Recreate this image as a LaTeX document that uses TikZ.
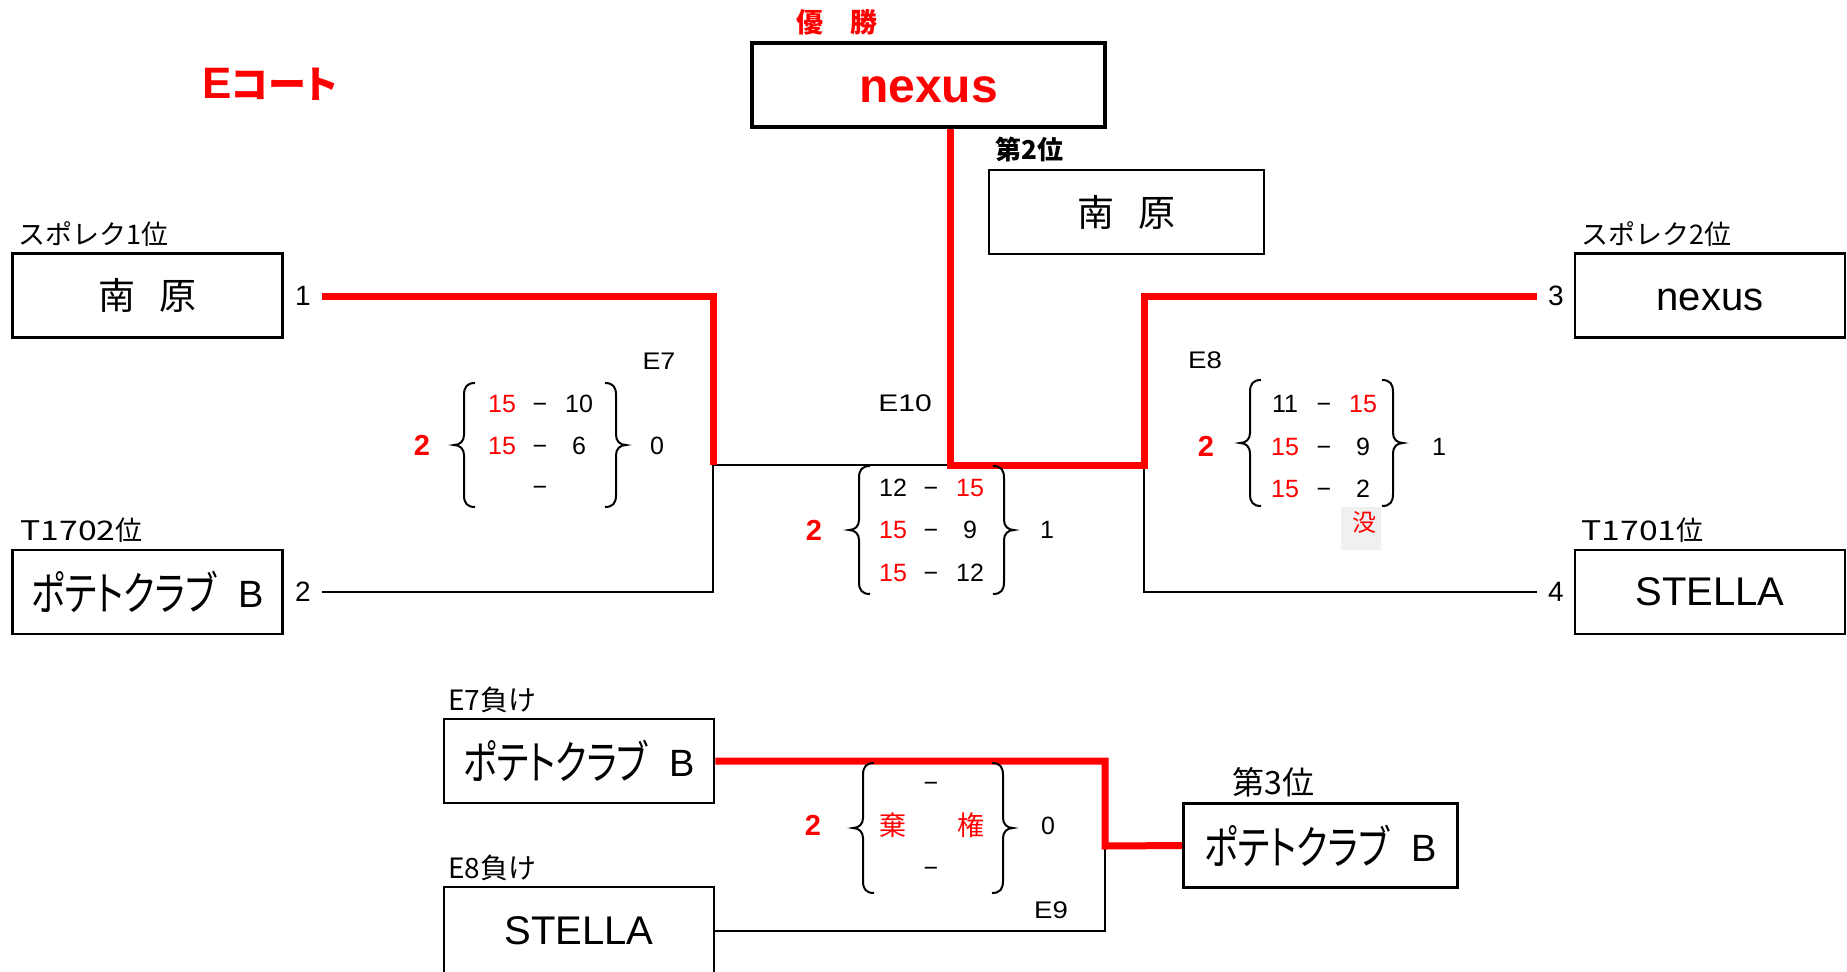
\documentclass[tikz,border=0pt]{standalone}
\usepackage{fontspec}
\setmainfont{Liberation Sans}
\newfontfamily\jp{Noto Sans CJK JP}[RawFeature={+palt}]
\newfontfamily\jpw{Noto Sans CJK JP}
\definecolor{lg}{RGB}{240,240,240}
\newcommand\fsz[1]{\fontsize{#1}{#1}\selectfont}
\newcommand\potato{\scalebox{0.76}[1]{\fsz{23}ポテトクラブ}\hspace{11pt}\raisebox{1.5pt}{\rmfamily\fsz{19}B}}
\newcommand\nanbara{南\hspace{12.5pt}原}
\newcommand\mybrL[3]{%
 \draw[brc] ({#1+21},{#2-#3}) .. controls ({#1+13},{#2-#3}) and ({#1+10},{#2-#3+4}) .. ({#1+10},{#2-#3+12})
  -- ({#1+10},{#2-10}) .. controls ({#1+10},{#2-4}) and ({#1+6},{#2}) .. ({#1},{#2})
  .. controls ({#1+6},{#2}) and ({#1+10},{#2+4}) .. ({#1+10},{#2+10})
  -- ({#1+10},{#2+#3-12}) .. controls ({#1+10},{#2+#3-4}) and ({#1+13},{#2+#3}) .. ({#1+21},{#2+#3});}
\newcommand\mybrR[3]{%
 \draw[brc] ({#1-21},{#2-#3}) .. controls ({#1-13},{#2-#3}) and ({#1-10},{#2-#3+4}) .. ({#1-10},{#2-#3+12})
  -- ({#1-10},{#2-10}) .. controls ({#1-10},{#2-4}) and ({#1-6},{#2}) .. ({#1},{#2})
  .. controls ({#1-6},{#2}) and ({#1-10},{#2+4}) .. ({#1-10},{#2+10})
  -- ({#1-10},{#2+#3-12}) .. controls ({#1-10},{#2+#3-4}) and ({#1-13},{#2+#3}) .. ({#1-21},{#2+#3});}
\begin{document}
\begin{tikzpicture}[x=0.5pt,y=-0.5pt,
  tbox/.style={draw, line width=1.3pt, inner sep=0pt, minimum width=135pt, minimum height=42pt},
  jtbox/.style={tbox, font=\jp\fsz{17.5}},
  ltbox/.style={tbox, font=\fsz{20}},
  redline/.style={red, line width=3.5pt, line join=miter},
  blkline/.style={black, line width=1pt},
  brc/.style={black, line width=1pt},
  seednum/.style={inner sep=0pt, font=\fsz{14}},
  scnum/.style={inner sep=0pt, font=\fsz{12.5}, text height=9pt, text depth=0pt},
  scred/.style={scnum, text=red},
  bigtwo/.style={inner sep=0pt, font=\bfseries\fsz{14.5}, text=red},
  elab/.style={inner sep=0pt, font=\fsz{12}},
  caplbl/.style={inner sep=0pt, anchor=west, font=\jpw\fsz{13.5}}]
\useasboundingbox (0,0) rectangle (1847,971);
\clip (0,0) rectangle (1847,971);

% title
\node[anchor=west, inner sep=0pt, text=red, font=\bfseries\fsz{22}] (court) at (202,84) {E{\jp\bfseries\fsz{19}コート}};
\node[inner sep=0pt, text=red, font=\jp\bfseries\fsz{13.5}] (yusho) at (837,22) {優　勝};

% boxes
\node[tbox, line width=2.25pt, minimum width=176.5pt, text=red, font=\bfseries\fsz{24}, text height=17pt, text depth=0pt] (champ) at (928.5,85) {nexus};
\node[jtbox, font=\jp\fsz{18.5}, minimum width=137.5pt] (second) at (1126.5,212) {\nanbara};
\node[caplbl, font=\jpw\bfseries\fsz{13}] (secondl) at (995,149) {第2位};

\node[jtbox, font=\jp\fsz{18.5}] (t1) at (147.5,295.5) {\nanbara};
\node[caplbl] (t1l) at (18,234) {スポレク1位};
\node[jtbox] (t2) at (147.5,592) {\potato};
\node[caplbl] (t2l) at (20,530) {\scalebox{1.25}[1]{T1702}位};
\node[ltbox, text height=14.5pt, text depth=0pt] (t3) at (1710,295.5) {nexus};
\node[caplbl] (t3l) at (1581,234) {スポレク2位};
\node[ltbox] (t4) at (1710,592) {STELLA};
\node[caplbl] (t4l) at (1581,530) {\scalebox{1.25}[1]{T1701}位};

\node[jtbox] (l7) at (579,761) {\potato};
\node[caplbl, font=\jpw\fsz{14}] (l7l) at (448,700) {E7負け};
\node[ltbox, minimum height=44pt] (l8) at (579,931) {STELLA};
\node[caplbl, font=\jpw\fsz{14}] (l8l) at (448,868) {E8負け};
\node[jtbox, minimum width=137pt] (third) at (1320.5,845.5) {\potato};
\node[caplbl, font=\jpw\fsz{16}] (thirdl) at (1232,782) {第3位};

% seed numbers
\node[seednum] (n1) at (303,296) {1};
\node[seednum] (n2) at (303,592) {2};
\node[seednum] (n3) at (1556,296) {3};
\node[seednum] (n4) at (1556,592) {4};

% connector points
\coordinate (s1) at (322,296);
\coordinate (s2) at (322,592);
\coordinate (s3) at (1537,296);
\coordinate (s4) at (1537,592);
\coordinate (j7) at (713,465);
\coordinate (j10) at (950,465);
\coordinate (j8) at (1144,465);
\coordinate (j9) at (1105,846);

% black connectors
\draw[blkline] (s2) -| (j7) -- (j10);
\draw[blkline] (j8) |- (s4);
\draw[blkline] (l8.east) -| (j9);
% red connectors
\draw[redline] (s1) -| (j7);
\draw[redline] (champ.south -| j10) -- (j10) -- (j8) |- (s3);
\draw[redline] (l7.east) -| (j9) -- (third.west);

% match labels
\node[elab] (e7) at (659,361) {\scalebox{1.12}[1]{E7}};
\node[elab] (e10) at (905,403) {\scalebox{1.25}[1]{E10}};
\node[elab] (e8) at (1205,360) {\scalebox{1.15}[1]{E8}};
\node[elab] (e9) at (1051,910) {\scalebox{1.15}[1]{E9}};

% E7 scores
\mybrL{454}{445}{62}
\mybrR{626}{445}{62}
\node[bigtwo] (e7w) at (422,445) {2};
\node[scnum] (e7l) at (657,445) {0};
\node[scred] (e7a1) at (502,403) {15};
\node[scnum] (e7a2) at (540,403) {−};
\node[scnum] (e7a3) at (579,403) {10};
\node[scred] (e7b1) at (502,445) {15};
\node[scnum] (e7b2) at (540,445) {−};
\node[scnum] (e7b3) at (579,445) {6};
\node[scnum] (e7c2) at (540,486) {−};

% E10 scores
\mybrL{849}{530}{64}
\mybrR{1014}{530}{64}
\node[bigtwo] (e10w) at (814,530) {2};
\node[scnum] (e10l) at (1047,529) {1};
\node[scnum] (e10a1) at (893,487) {12};
\node[scnum] (e10a2) at (931,487) {−};
\node[scred] (e10a3) at (970,487) {15};
\node[scred] (e10b1) at (893,529) {15};
\node[scnum] (e10b2) at (931,529) {−};
\node[scnum] (e10b3) at (970,529) {9};
\node[scred] (e10c1) at (893,572) {15};
\node[scnum] (e10c2) at (931,572) {−};
\node[scnum] (e10c3) at (970,572) {12};

% E8 scores
\mybrL{1240}{443}{63}
\mybrR{1403}{443}{63}
\node[bigtwo] (e8w) at (1206,446) {2};
\node[scnum] (e8l) at (1439,446) {1};
\node[scnum] (e8a1) at (1285,403) {11};
\node[scnum] (e8a2) at (1324,403) {−};
\node[scred] (e8a3) at (1363,403) {15};
\node[scred] (e8b1) at (1285,446) {15};
\node[scnum] (e8b2) at (1324,446) {−};
\node[scnum] (e8b3) at (1363,446) {9};
\node[scred] (e8c1) at (1285,488) {15};
\node[scnum] (e8c2) at (1324,488) {−};
\node[scnum] (e8c3) at (1363,488) {2};
\node[fill=lg, inner sep=0pt, minimum width=20pt, minimum height=21.5pt] (botbg) at (1361,528.5) {};
\node[inner sep=0pt, text=red, font=\jp\fsz{12}] (bot) at (1364,522) {没};

% E9 scores
\mybrL{853}{828}{65}
\mybrR{1013}{828}{65}
\node[bigtwo] (e9w) at (813,825) {2};
\node[scnum] (e9l) at (1048,825) {0};
\node[scnum] (e9a) at (931,782) {−};
\node[inner sep=0pt, text=red, font=\jp\fsz{13.5}] (e9k1) at (893,825) {棄};
\node[inner sep=0pt, text=red, font=\jp\fsz{13.5}] (e9k2) at (971,825) {権};
\node[scnum] (e9c) at (931,867) {−};
\end{tikzpicture}
\end{document}
